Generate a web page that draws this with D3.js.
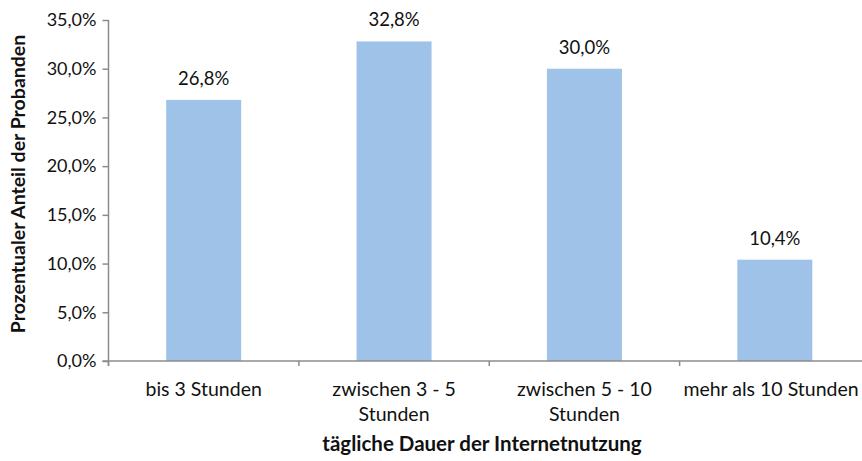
<!DOCTYPE html>
<html>
<head>
<meta charset="utf-8">
<script src="https://cdn.jsdelivr.net/npm/d3@7"></script>
<style>
  html, body { margin: 0; padding: 0; background: #fff; }
  svg { display: block; font-family: Lato, "Open Sans", sans-serif; }
</style>
</head>
<body>
<svg id="chart" width="862" height="461"></svg>
<script>
// Daily internet usage among participants
const categories = [
  ["bis 3 Stunden"],
  ["zwischen 3 - 5", "Stunden"],
  ["zwischen 5 - 10", "Stunden"],
  ["mehr als 10 Stunden"]
];
const shares = [26.8, 32.8, 30.0, 10.4];
const yTicks = [0, 5, 10, 15, 20, 25, 30, 35];
const yTitle = "Prozentualer Anteil der Probanden";
const xTitle = "tägliche Dauer der Internetnutzung";

const svg = d3.select("#chart");
const plotLeft = 108.5, plotRight = 870, plotTop = 20, plotBottom = 361;
const axisColor = "#8c8c8c";
const textColor = "#111";
const fmt = v => v.toFixed(1).replace(".", ",") + "%";

const band = d3.scaleBand().domain(categories.map((c, i) => i)).range([plotLeft, plotRight]);
const y = d3.scaleLinear().domain([0, 35]).range([plotBottom, plotTop]);
const barWidth = 75;

// bars
svg.append("g").selectAll("rect")
  .data(shares)
  .join("rect")
  .attr("x", (d, i) => band(i) + band.bandwidth() / 2 - barWidth / 2)
  .attr("width", barWidth)
  .attr("y", d => y(d))
  .attr("height", d => y(0) - y(d))
  .attr("fill", "#9fc2e8");

// value labels
svg.append("g").selectAll("text")
  .data(shares)
  .join("text")
  .attr("x", (d, i) => band(i) + band.bandwidth() / 2)
  .attr("y", d => y(d) - 15)
  .attr("text-anchor", "middle")
  .attr("font-size", 18.5)
  .attr("fill", textColor)
  .text(fmt);

// y axis
const yAxis = svg.append("g")
  .attr("transform", `translate(${plotLeft},0)`)
  .call(d3.axisLeft(y).tickValues(yTicks).tickSize(6).tickPadding(6).tickFormat(fmt));
yAxis.select(".domain").attr("stroke", axisColor).attr("stroke-width", 1.5)
  .attr("d", `M0,${plotTop}V${plotBottom + 5}`);
yAxis.selectAll(".tick line").attr("stroke", axisColor).attr("stroke-width", 1.5);
yAxis.selectAll(".tick text").attr("font-size", 18).attr("fill", textColor)
  .attr("font-family", "Lato, sans-serif");

// x axis
const xAxis = svg.append("g")
  .attr("transform", `translate(0,${plotBottom})`);
xAxis.append("line")
  .attr("x1", plotLeft - 6).attr("x2", 862)
  .attr("stroke", axisColor).attr("stroke-width", 1.5);
xAxis.selectAll("line.tick")
  .data(d3.range(categories.length + 1))
  .join("line")
  .attr("class", "tick")
  .attr("x1", i => i < categories.length ? band(i) : plotRight)
  .attr("x2", i => i < categories.length ? band(i) : plotRight)
  .attr("y1", 0).attr("y2", 5)
  .attr("stroke", axisColor).attr("stroke-width", 1.5);

const catLabels = svg.append("g").selectAll("text")
  .data(categories)
  .join("text")
  .attr("x", (d, i) => Math.min(band(i) + band.bandwidth() / 2, 771))
  .attr("y", 396)
  .attr("text-anchor", "middle")
  .attr("font-size", 19.5)
  .attr("fill", textColor);
catLabels.selectAll("tspan")
  .data(d => d)
  .join("tspan")
  .attr("x", function () { return d3.select(this.parentNode).attr("x"); })
  .attr("dy", (d, i) => i === 0 ? 0 : 25)
  .text(d => d);

// axis titles
svg.append("text")
  .attr("x", 482).attr("y", 451)
  .attr("text-anchor", "middle")
  .attr("font-size", 20.5).attr("font-weight", "bold")
  .attr("fill", textColor)
  .text(xTitle);

svg.append("text")
  .attr("transform", "translate(25,184) rotate(-90)")
  .attr("text-anchor", "middle")
  .attr("font-size", 19.5).attr("font-weight", "bold")
  .attr("fill", textColor)
  .text(yTitle);
</script>
</body>
</html>
